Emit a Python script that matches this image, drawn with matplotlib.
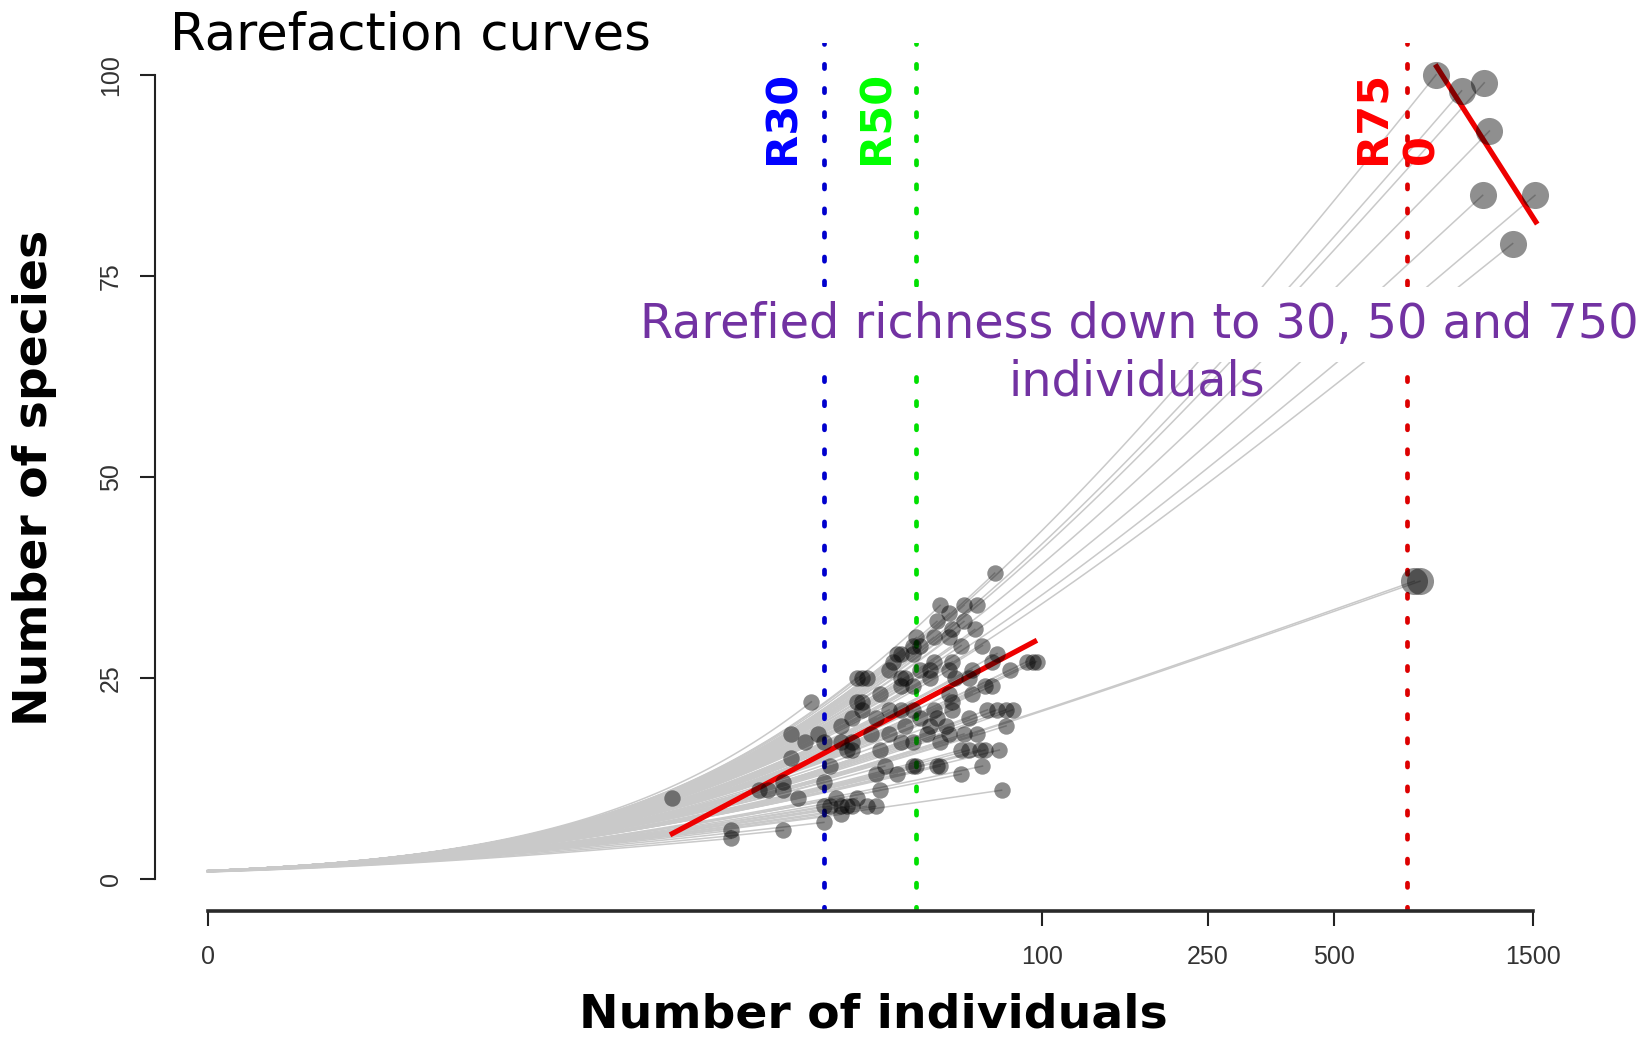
# plot.py - rarefaction curves, sites coloured by sample size

import numpy as np
import matplotlib
matplotlib.use("Agg")
import matplotlib.pyplot as plt
from matplotlib.ticker import NullLocator

small_n = [13, 18, 18, 24, 28, 25, 27, 29, 25, 21, 22, 24, 26, 24, 30, 31, 33, 34,
           35, 36, 38, 30, 30, 30, 32, 31, 33, 34, 36, 38, 40, 41, 40, 45, 49, 56,
           64, 72, 80, 67, 73, 64, 82, 78, 82, 70, 65, 60, 57, 53, 67, 76, 73, 84,
           92, 95, 72, 69, 77, 57, 60, 65, 70, 65, 56, 61, 64, 60, 55, 50, 51, 46,
           45, 49, 43, 54, 55, 51, 47, 46, 49, 54, 60, 61, 62, 68, 61, 60, 68, 41,
           40, 37, 37, 35, 43, 46, 47, 49, 51, 43, 46, 41, 54, 55, 67, 49, 44, 76,
           85, 74, 56, 61, 59, 39, 33, 42, 71, 79, 78, 97, 37, 46, 36, 50, 57, 35,
           49, 35, 33]
small_s = [10, 6, 5, 6, 22, 18, 17, 18, 15, 11, 11, 11, 10, 12, 17, 14, 19, 16,
           16, 25, 25, 12, 7, 9, 10, 9, 9, 9, 10, 9, 9, 11, 13, 13, 14, 14,
           13, 14, 11, 16, 16, 16, 19, 21, 21, 18, 18, 18, 17, 18, 20, 24, 24, 26,
           27, 27, 29, 31, 38, 34, 33, 34, 34, 32, 32, 31, 29, 30, 30, 30, 29, 28,
           28, 28, 26, 26, 27, 26, 25, 24, 24, 25, 26, 27, 25, 26, 22, 23, 23, 23,
           20, 22, 21, 20, 21, 21, 19, 21, 20, 18, 17, 16, 19, 21, 25, 29, 27, 27,
           21, 21, 20, 21, 19, 18, 17, 14, 16, 16, 28, 27, 25, 25, 22, 14, 14, 17,
           17, 9, 8]

big_n = [880, 1013, 1148, 1181, 1138, 1519, 1343, 780, 805]
big_s = [100, 98, 99, 93, 85, 85, 79, 37, 37]

# Fitted trends (red), end points
fit_small_n = [13, 96]
fit_small_s = [5.6, 29.5]
fit_big_n = [883, 1526]
fit_big_s = [101.0, 81.7]

# Rarefaction depths
cutoffs = [30, 50, 750]
cut_labels = ["R30", "R50", "R75\n0"]

xticks = [1, 100, 250, 500, 1500]
xtick_labels = ["0", "100", "250", "500", "1500"]
yticks = [0, 25, 50, 75, 100]

# Styles
_COL_CURVE = "#c9c9c9"
_COL_FIT = "#ee0000"
_COL_NOTE = "#7232a2"
cut_line_cols = ["#0000cd", "#00e000", "#dd0000"]
cut_text_cols = ["#0000ff", "#00ff00", "#ff0000"]
cut_text_dx = [-41.5, -39.5, -10]   # pixels from the line

W, H = 1652, 1041


def _alpha(N, S):
    """Fisher alpha such that alpha*ln(1+N/alpha) = S (bisection)."""
    lo, hi = 1e-3, 1e7
    for _ in range(200):
        mid = np.sqrt(lo * hi)
        if mid * np.log1p(N / mid) < S:
            lo = mid
        else:
            hi = mid
    return np.sqrt(lo * hi)


def _curve(N, S):
    a = _alpha(N, S)
    n = np.geomspace(1, N, 120)
    return n, a * np.log1p(n / a)


fig = plt.figure(figsize=(W / 100, H / 100), dpi=100)
ax = fig.add_axes([154.6 / W, 1 - 910.8 / H, (1585.7 - 154.6) / W, (910.8 - 42.6) / H])

# Rarefaction curves
for N, S in list(zip(small_n, small_s)) + list(zip(big_n, big_s)):
    n, s = _curve(N, S)
    ax.plot(n, s, color=_COL_CURVE, lw=1.1, zorder=1)

# Cut-off lines and their labels
for c, lab, lc, tc, dx in zip(cutoffs, cut_labels, cut_line_cols, cut_text_cols, cut_text_dx):
    ax.axvline(c, color=lc, lw=3.4, dashes=(0.9, 4.2), dash_capstyle="round", zorder=2)
    ax.annotate(lab, xy=(c, 88.9), xytext=(dx, 0), textcoords="offset pixels",
                rotation=90, ha="center", va="bottom", multialignment="left",
                fontsize=31, fontweight="bold", color=tc, zorder=6)

# Trends
ax.plot(fit_small_n, fit_small_s, color=_COL_FIT, lw=3.8, zorder=3)
ax.plot(fit_big_n, fit_big_s, color=_COL_FIT, lw=3.8, zorder=3)

# Sites
ax.scatter(small_n, small_s, s=140, c="black", alpha=0.45, linewidths=0, zorder=4)
ax.scatter(big_n, big_s, s=380, c="black", alpha=0.44, linewidths=0, zorder=4)

# Axes, R style
ax.set_xscale("log")
lo, hi = np.log(xticks[0]), np.log(xticks[-1])
ext = 0.04 * (hi - lo)
ax.set_xlim(np.exp(lo - ext), np.exp(hi + ext))
ax.set_ylim(-4, 104)
ax.xaxis.set_minor_locator(NullLocator())
ax.set_xticks(xticks)
ax.set_xticklabels(xtick_labels)
ax.set_yticks(yticks)
ax.set_yticklabels([str(v) for v in yticks])

for side in ("top", "right"):
    ax.spines[side].set_visible(False)
ax.spines["left"].set_bounds(0, 100)
ax.spines["bottom"].set_bounds(xticks[0], xticks[-1])
ax.spines["left"].set_linewidth(1.5)
ax.spines["bottom"].set_linewidth(2.6)
ax.spines["left"].set_color("#222222")
ax.spines["bottom"].set_color("#2a2a2a")
ax.patch.set_visible(False)

ax.tick_params(axis="both", length=10.8, width=1.5, color="#222222",
               labelcolor="#333333", labelsize=18)
ax.tick_params(axis="x", pad=14)
ax.tick_params(axis="y", pad=12, labelrotation=90)
for lbl in ax.get_xticklabels() + ax.get_yticklabels():
    lbl.set_family("Liberation Sans")
for lbl in ax.get_yticklabels():
    lbl.set_va("center")

# Texts
fig.text(170 / W, 1 - 50 / H, "Rarefaction curves", fontsize=37,
         ha="left", va="baseline")
fig.text(873 / W, 1 - 1028 / H, "Number of individuals", fontsize=34,
         fontweight="bold", ha="center", va="baseline")
fig.text(35 / W, 1 - 478 / H, "Number of species", fontsize=34,
         fontweight="bold", rotation=90, ha="center", va="center")

fig.text(1139 / W, 1 - 338 / H, "Rarefied richness down to 30, 50 and 750",
         fontsize=34.4, color=_COL_NOTE, ha="center", va="baseline", zorder=10,
         bbox=dict(boxstyle="square,pad=0.3", fc="white", ec="none"))
fig.text(1136.5 / W, 1 - 395 / H, "individuals", fontsize=34.4, color=_COL_NOTE,
         ha="center", va="baseline", zorder=10)

fig.savefig("out.png", dpi=100)
plt.close(fig)
